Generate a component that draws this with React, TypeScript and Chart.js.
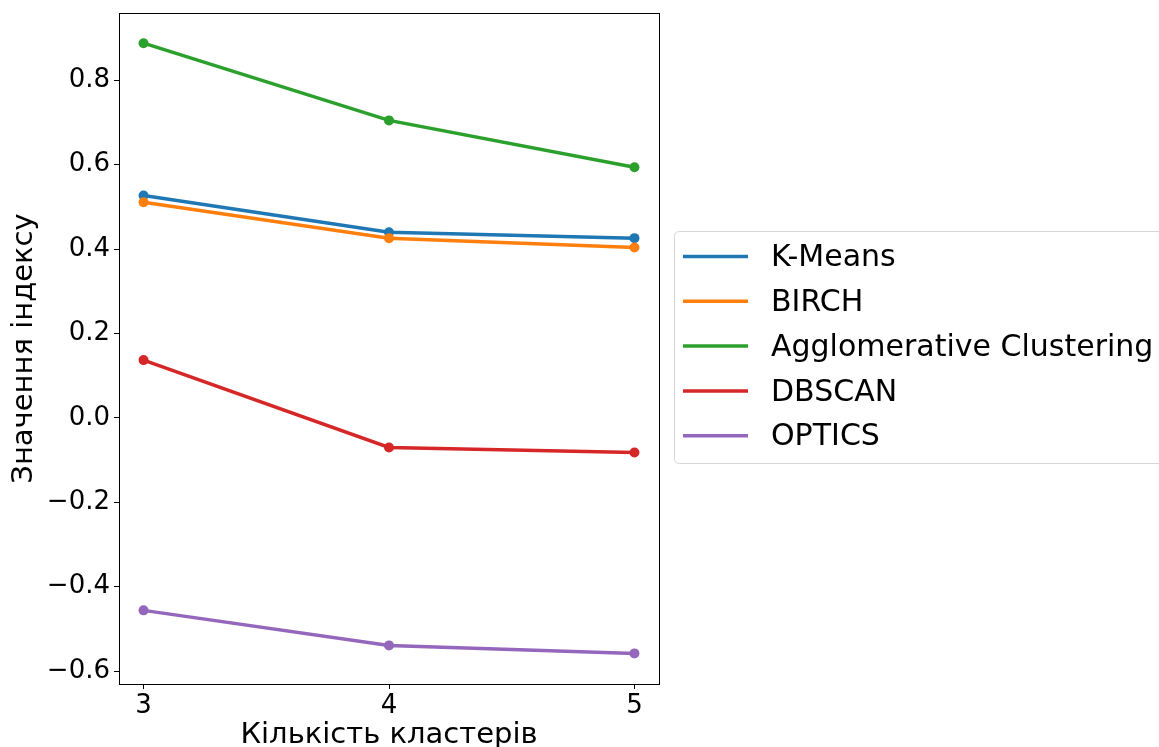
import React, { useEffect, useRef } from "react";
import { Chart, registerables } from "chart.js";

Chart.register(...registerables);

const clusterCounts = [3, 4, 5];
const seriesNames = ["K-Means", "BIRCH", "Agglomerative Clustering", "DBSCAN", "OPTICS"];
const kMeans = [0.527, 0.44, 0.426];
const birch = [0.511, 0.426, 0.404];
const agglomerative = [0.888, 0.705, 0.594];
const dbscan = [0.137, -0.07, -0.082];
const optics = [-0.456, -0.539, -0.558];
const yTickValues = [-0.6, -0.4, -0.2, 0.0, 0.2, 0.4, 0.6, 0.8];
const xTickValues = [3, 4, 5];
const colors = ["#1f77b4", "#ff7f0e", "#2ca02c", "#d62728", "#9467bd"];

const FONT = "'DejaVu Sans', sans-serif";

const framePlugin = {
  id: "frameAndLegend",
  afterDraw(chart: any) {
    const ctx = chart.ctx;
    const a = chart.chartArea;
    ctx.save();
    ctx.strokeStyle = "#000";
    ctx.lineWidth = 1;
    ctx.strokeRect(Math.round(a.left) + 0.5, Math.round(a.top) + 0.5, Math.round(a.right - a.left), Math.round(a.bottom - a.top));

    // legend
    const bx = 674.5, by = 231.5, bw = 500, bh = 232, r = 5;
    ctx.beginPath();
    ctx.moveTo(bx + r, by);
    ctx.lineTo(bx + bw - r, by);
    ctx.quadraticCurveTo(bx + bw, by, bx + bw, by + r);
    ctx.lineTo(bx + bw, by + bh - r);
    ctx.quadraticCurveTo(bx + bw, by + bh, bx + bw - r, by + bh);
    ctx.lineTo(bx + r, by + bh);
    ctx.quadraticCurveTo(bx, by + bh, bx, by + bh - r);
    ctx.lineTo(bx, by + r);
    ctx.quadraticCurveTo(bx, by, bx + r, by);
    ctx.closePath();
    ctx.fillStyle = "rgba(255,255,255,0.8)";
    ctx.fill();
    ctx.strokeStyle = "#d6d6d6";
    ctx.lineWidth = 1;
    ctx.stroke();

    const rowY0 = 256.5;
    const rowGap = 44.8;
    ctx.font = `30px ${FONT}`;
    ctx.textBaseline = "middle";
    ctx.textAlign = "left";
    chart.data.datasets.forEach((ds: any, i: number) => {
      const y = rowY0 + i * rowGap;
      ctx.beginPath();
      ctx.moveTo(683, y);
      ctx.lineTo(748, y);
      ctx.strokeStyle = ds.borderColor;
      ctx.lineWidth = 3.5;
      ctx.stroke();
      ctx.fillStyle = "#000";
      ctx.fillText(ds.label, 771, y + 2);
    });
    ctx.restore();
  },
};

export default function App() {
  const ref = useRef<HTMLCanvasElement | null>(null);
  useEffect(() => {
    if (!ref.current) return;
    const seriesData = [kMeans, birch, agglomerative, dbscan, optics];
    const chart = new Chart(ref.current, {
      type: "line",
      data: {
        datasets: seriesData.map((vals, i) => ({
          label: seriesNames[i],
          data: vals.map((v, j) => ({ x: clusterCounts[j], y: v })),
          borderColor: colors[i],
          backgroundColor: colors[i],
          borderWidth: 3.5,
          pointRadius: 5,
          pointBorderWidth: 0,
          pointHoverRadius: 5,
          fill: false,
          tension: 0,
          order: seriesData.length - i,
        })),
      },
      options: {
        animation: false,
        responsive: false,
        events: [],
        layout: { padding: { top: 13, right: 500, left: 0, bottom: 0 } },
        plugins: {
          legend: { display: false },
          tooltip: { enabled: false },
        },
        scales: {
          x: {
            type: "linear",
            min: 2.9,
            max: 5.1,
            afterBuildTicks: (axis: any) => {
              axis.ticks = xTickValues.map((v) => ({ value: v }));
            },
            afterFit: (axis: any) => {
              axis.height = 63;
              axis.paddingLeft = 0;
              axis.paddingRight = 0;
            },
            grid: {
              display: true,
              drawOnChartArea: false,
              drawTicks: true,
              tickLength: 5,
              tickColor: "#000",
              tickWidth: 1,
            },
            border: { display: true, color: "#000", width: 1 },
            ticks: {
              color: "#000",
              font: { family: FONT, size: 26, lineHeight: 1.0 },
              padding: 4,
              callback: (v: any) => String(v),
              maxRotation: 0,
            },
            title: {
              display: true,
              text: "Кількість кластерів",
              color: "#000",
              font: { family: FONT, size: 29, lineHeight: 1.0 },
              padding: { top: 0, bottom: -3 },
            },
          },
          y: {
            type: "linear",
            min: -0.6305,
            max: 0.9595,
            afterBuildTicks: (axis: any) => {
              axis.ticks = yTickValues.map((v) => ({ value: v }));
            },
            afterFit: (axis: any) => {
              axis.width = 119;
              axis.paddingTop = 0;
              axis.paddingBottom = 0;
            },
            grid: {
              display: true,
              drawOnChartArea: false,
              drawTicks: true,
              tickLength: 5,
              tickColor: "#000",
              tickWidth: 1,
            },
            border: { display: true, color: "#000", width: 1 },
            ticks: {
              color: "#000",
              font: { family: FONT, size: 26 },
              padding: 4,
              callback: (v: any) => Number(v).toFixed(1).replace("-", "\u2212"),
            },
            title: {
              display: true,
              text: "Значення індексу",
              color: "#000",
              font: { family: FONT, size: 29, lineHeight: 1.0 },
              padding: { top: 10, bottom: 0 },
            },
          },
        },
      },
      plugins: [framePlugin],
    } as any);
    return () => chart.destroy();
  }, []);
  return (
    <div style={{ position: "absolute", left: 0, top: 0, width: 1159, height: 747, background: "#fff" }}>
      <canvas ref={ref} width={1159} height={747} style={{ display: "block", width: 1159, height: 747 }} />
    </div>
  );
}
